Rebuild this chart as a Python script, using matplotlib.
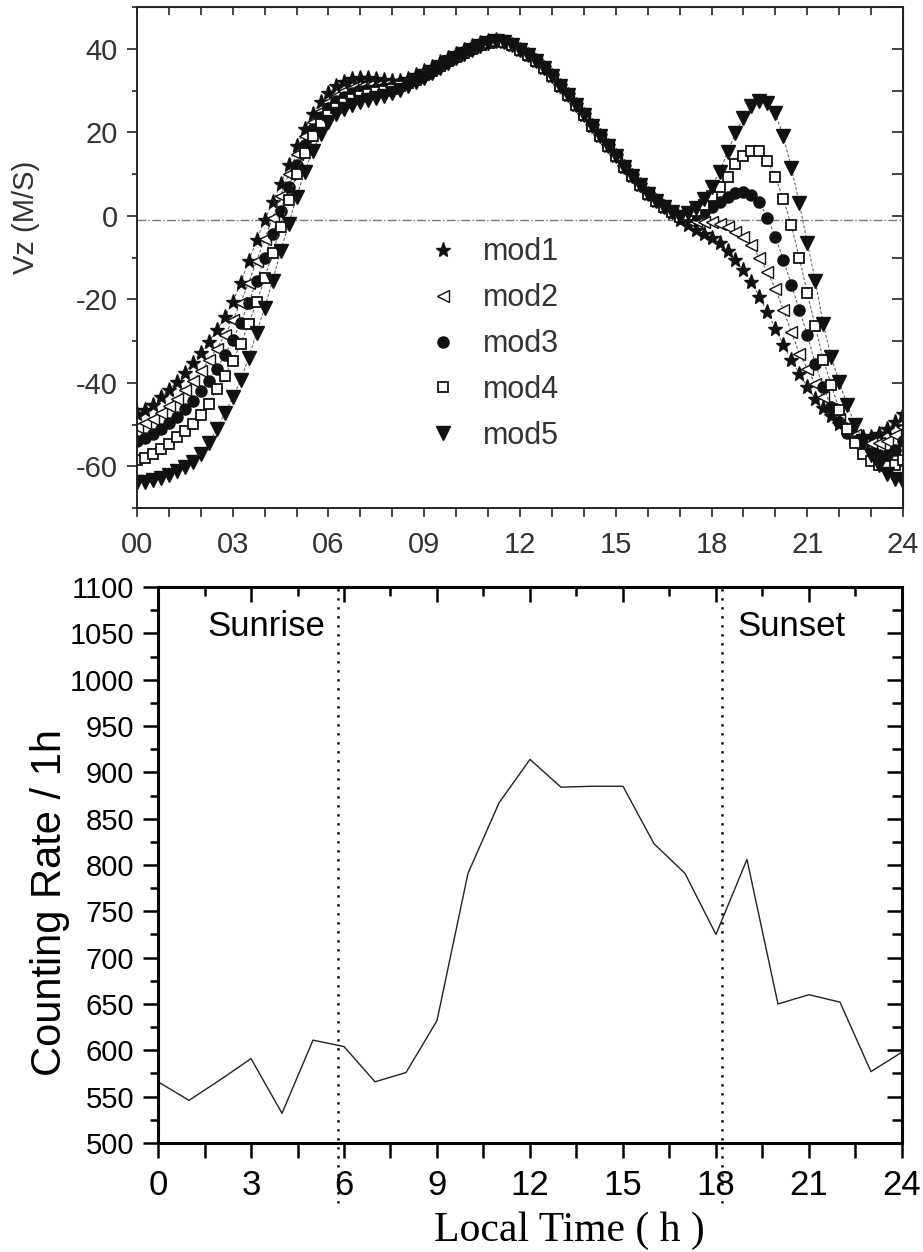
import numpy as np
import matplotlib
matplotlib.use("Agg")
import matplotlib.pyplot as plt
from matplotlib.lines import Line2D

plt.rcParams['font.family'] = ['Liberation Sans', 'DejaVu Sans']
plt.rcParams['axes.unicode_minus'] = False

# ---- top panel: vertical drift Vz for five models, every 15 min ----
hours = np.arange(0, 24.01, 0.25)

mod1 = [-47.5, -46.5, -45.2, -43.5,  -41.7, -39.8, -37.6, -35.3,  -32.8, -30.2, -27.4, -24.2,
        -20.7, -16.0, -10.8, -5.8,   -1.0, 3.3, 7.6, 12.2,        16.7, 20.8, 24.3, 27.2,
        29.4, 31.0, 32.1, 32.8,      33.1, 33.1, 32.8, 32.4,      32.2, 32.3, 32.8, 33.6,
        34.6, 35.7, 36.8, 37.8,      38.8, 39.8, 40.7, 41.4,      41.9, 42.0, 41.7, 41.0,
        39.8, 38.6, 37.1, 35.4,      33.4, 31.2, 28.9, 26.5,      24.1, 21.6, 19.1, 16.6,
        14.2, 11.8, 9.5, 7.3,        5.3, 3.5, 2.0, 0.6,          -0.9, -2.3, -3.5, -4.4,
        -5.3, -6.6, -8.5, -10.7,     -13.1, -15.9, -19.4, -23.1,  -27.0, -30.9, -34.5, -37.8,
        -41.0, -43.8, -46.0, -48.0,  -49.8, -51.3, -52.4, -53.0,  -52.9, -52.2, -51.0, -49.4,
        -47.5]

mod2 = [-50.5, -49.7, -48.6, -47.2,  -45.6, -43.8, -41.8, -39.6,  -37.2, -34.6, -31.8, -28.6,
        -25.0, -20.8, -16.0, -10.8,  -5.5, -0.5, 4.8, 10.0,       14.8, 19.0, 22.4, 25.2,
        27.3, 28.8, 29.8, 30.5,      30.9, 31.1, 31.2, 31.3,      31.5, 31.9, 32.5, 33.3,
        34.3, 35.4, 36.5, 37.6,      38.6, 39.6, 40.5, 41.2,      41.7, 41.9, 41.6, 40.9,
        39.8, 38.6, 37.1, 35.4,      33.4, 31.2, 28.9, 26.5,      24.1, 21.6, 19.1, 16.6,
        14.2, 11.8, 9.5, 7.3,        5.3, 3.5, 2.0, 0.7,          -0.5, -1.0, -1.3, -1.4,
        -1.6, -2.0, -2.8, -3.8,      -5.2, -7.0, -10.0, -13.5,    -17.5, -22.5, -27.8, -33.0,
        -36.6, -40.3, -43.5, -46.3,  -48.7, -50.8, -52.4, -53.6,  -54.3, -54.5, -54.0, -52.5,
        -50.5]

mod3 = [-54.0, -53.3, -52.3, -51.1,  -49.7, -48.1, -46.3, -44.3,  -42.0, -39.5, -36.6, -33.4,
        -29.8, -25.6, -20.8, -15.6,  -10.0, -4.4, 1.2, 6.8,       12.2, 16.9, 20.7, 23.6,
        25.8, 27.4, 28.5, 29.3,      29.8, 30.1, 30.3, 30.5,      30.8, 31.3, 32.0, 32.9,
        33.9, 35.0, 36.2, 37.3,      38.3, 39.3, 40.2, 41.0,      41.6, 41.8, 41.6, 40.9,
        39.8, 38.6, 37.1, 35.4,      33.4, 31.2, 28.9, 26.5,      24.1, 21.6, 19.1, 16.6,
        14.2, 11.8, 9.5, 7.3,        5.3, 3.5, 2.0, 0.8,          -0.4, -0.3, 0.2, 1.0,
        2.1, 3.4, 4.6, 5.4,          5.6, 5.0, 3.3, -0.5,         -5.0, -10.5, -16.5, -22.5,
        -28.5, -35.5, -41.0, -45.8,  -49.5, -52.0, -54.0, -55.5,  -56.7, -57.3, -57.3, -56.0,
        -54.0]

mod4 = [-58.5, -57.9, -57.0, -55.9,  -54.6, -53.1, -51.5, -49.8,  -47.6, -45.0, -41.6, -38.4,
        -34.8, -30.6, -25.9, -20.7,  -15.0, -8.8, -2.8, 3.8,      10.0, 15.0, 19.0, 22.0,
        24.2, 25.9, 27.1, 28.0,      28.7, 29.2, 29.6, 30.0,      30.4, 31.0, 31.7, 32.6,
        33.6, 34.7, 35.9, 37.0,      38.0, 39.1, 40.0, 40.8,      41.5, 41.8, 41.6, 40.9,
        39.8, 38.6, 37.1, 35.4,      33.4, 31.2, 28.9, 26.5,      24.1, 21.6, 19.1, 16.6,
        14.2, 11.8, 9.5, 7.3,        5.3, 3.5, 2.0, 0.8,          -0.3, 0.3, 1.2, 2.7,
        4.8, 6.8, 9.3, 12.5,         14.4, 15.5, 15.4, 13.2,      9.3, 4.0, -2.3, -10.0,
        -18.5, -26.5, -34.5, -40.5,  -46.5, -51.0, -54.5, -57.0,  -58.7, -59.7, -60.0, -59.7,
        -58.5]

mod5 = [-63.8, -63.7, -63.3, -62.7,  -62.0, -61.2, -60.2, -59.0,  -57.0, -54.5, -51.0, -47.3,
        -43.5, -39.3, -34.0, -28.0,  -22.0, -15.5, -8.5, -2.0,    4.5, 10.5, 15.5, 19.5,
        22.5, 24.3, 25.6, 26.5,      27.2, 27.8, 28.3, 28.8,      29.4, 30.1, 31.0, 32.0,
        33.0, 34.2, 35.4, 36.6,      37.7, 38.8, 39.8, 40.7,      41.4, 41.8, 41.6, 40.9,
        39.8, 38.6, 37.1, 35.4,      33.4, 31.2, 28.9, 26.5,      24.1, 21.6, 19.1, 16.6,
        14.2, 11.8, 9.5, 7.3,        5.3, 3.5, 2.0, 0.8,          -0.2, 0.6, 1.9, 4.0,
        7.0, 10.5, 15.3, 19.8,       23.5, 26.3, 27.5, 27.0,      24.5, 19.0, 11.5, 3.0,
        -6.5, -15.5, -26.0, -33.8,   -39.8, -45.3, -50.0, -54.0,  -57.3, -59.8, -61.8, -63.1,
        -63.8]

model_names = ['mod1', 'mod2', 'mod3', 'mod4', 'mod5']
zero_level = -1.0

# ---- bottom panel: hourly counting rate ----
local_hour = list(range(0, 25))
counting_rate = [566, 546, 568, 591, 532, 611, 604, 566, 576, 632, 791, 867, 914,
                 884, 885, 885, 823, 791, 725, 806, 650, 660, 652, 577, 598]
sunrise_h = 5.8
sunset_h = 18.2

gray = '#333333'
fig = plt.figure(figsize=(9.23, 12.52), dpi=100)

# ================= top panel =================
ax1 = fig.add_axes([0.1484, 0.5942, 0.830, 0.4002])
styles = [
    dict(marker='*', ms=11, mfc='#111111', mec='#111111'),
    dict(marker='<', ms=8, mfc='white', mec='#111111', mew=1.0),
    dict(marker='o', ms=8, mfc='#111111', mec='#111111'),
    dict(marker='s', ms=7.5, mfc='white', mec='#111111', mew=1.3),
    dict(marker='v', ms=9.5, mfc='#111111', mec='#111111'),
]
for vals, st, name in zip([mod1, mod2, mod3, mod4, mod5], styles, model_names):
    ax1.plot(hours, vals, ls=(0, (3, 2)), lw=0.7, color='#555555', label=name, **st)

ax1.axhline(zero_level, color='#777777', lw=1.0, ls='-.', zorder=0)

ax1.set_xlim(0, 24)
ax1.set_ylim(-70, 50)
ax1.set_xticks(range(0, 25, 3))
ax1.set_xticklabels(['%02d' % h for h in range(0, 25, 3)])
ax1.set_xticks(range(0, 25), minor=True)
ax1.set_yticks(range(-60, 41, 20))
ax1.set_yticks(range(-70, 51, 10), minor=True)
ax1.tick_params(axis='both', which='both', labelsize=21, labelcolor=gray, color='#222222', width=1.2)
ax1.tick_params(axis='x', which='both', direction='out', length=6.5, pad=10)
ax1.tick_params(axis='y', which='major', direction='out', length=7, pad=7)
ax1.tick_params(axis='y', which='minor', direction='out', length=3.6)
for sp in ax1.spines.values():
    sp.set_linewidth(1.4)
    sp.set_color('#222222')

top1 = ax1.secondary_xaxis('top')
top1.set_xticks(range(0, 25))
top1.tick_params(direction='in', length=6, width=1.2, labeltop=False, color='#222222')
right1 = ax1.secondary_yaxis('right')
right1.set_yticks(range(-70, 51, 10))
right1.tick_params(direction='in', length=8, width=1.2, labelright=False, color='#222222')

ax1.set_ylabel('Vz (M/S)', fontsize=21, color=gray)
ax1.yaxis.set_label_coords(-0.127, 0.58)

handles = [Line2D([], [], ls='none', **st) for st in styles]
ax1.legend(handles, model_names, loc='upper left', bbox_to_anchor=(0.3795, 0.54),
           frameon=False, fontsize=22, labelcolor=gray, handlelength=1.0,
           handletextpad=0.8, labelspacing=0.52, borderpad=0, borderaxespad=0)

# ================= bottom panel =================
ax2 = fig.add_axes([0.1712, 0.0871, 0.806, 0.444])
ax2.plot(local_hour, counting_rate, color='#222222', lw=1.0)

for t in [sunrise_h, sunset_h]:
    ax2.plot([t, t], [-0.108, 1.007], transform=ax2.get_xaxis_transform(), clip_on=False,
             color='black', lw=1.8, ls=(0, (0.9, 2.7)))

ax2.text(1.6, 1057, 'Sunrise', fontsize=25, ha='left', va='center')
ax2.text(18.7, 1057, 'Sunset', fontsize=25, ha='left', va='center')

ax2.set_xlim(0, 24)
ax2.set_ylim(500, 1100)
ax2.set_xticks(range(0, 25, 3))
ax2.set_xticks(np.arange(0, 24.1, 1.5), minor=True)
ax2.set_yticks(range(500, 1101, 50))
ax2.set_yticks(range(500, 1101, 25), minor=True)
ax2.tick_params(axis='x', which='both', direction='out', length=11, width=1.8, labelsize=25, pad=8)
ax2.tick_params(axis='y', which='major', direction='out', length=11, width=1.8, labelsize=21, pad=6)
ax2.tick_params(axis='y', which='minor', direction='out', length=6, width=1.8)
for sp in ax2.spines.values():
    sp.set_linewidth(2.2)

top2 = ax2.secondary_xaxis('top')
top2.set_xticks(range(0, 25, 3))
top2.set_xticks(np.arange(0, 24.1, 1.5), minor=True)
top2.tick_params(which='major', direction='in', length=11, width=1.8, labeltop=False)
top2.tick_params(which='minor', direction='in', length=6.5, width=1.8)
right2 = ax2.secondary_yaxis('right')
right2.set_yticks(range(500, 1101, 50))
right2.set_yticks(range(500, 1101, 25), minor=True)
right2.tick_params(which='major', direction='in', length=11, width=1.8, labelright=False)
right2.tick_params(which='minor', direction='in', length=7, width=1.8)

ax2.set_ylabel('Counting Rate / 1h', fontsize=30)
ax2.yaxis.set_label_coords(-0.118, 0.433)
ax2.set_xlabel('Local Time ( h )', fontsize=30, family=['Liberation Serif', 'DejaVu Serif'])
ax2.xaxis.set_label_coords(0.5524, -0.124)

fig.savefig('out.png', dpi=100, facecolor='white')
